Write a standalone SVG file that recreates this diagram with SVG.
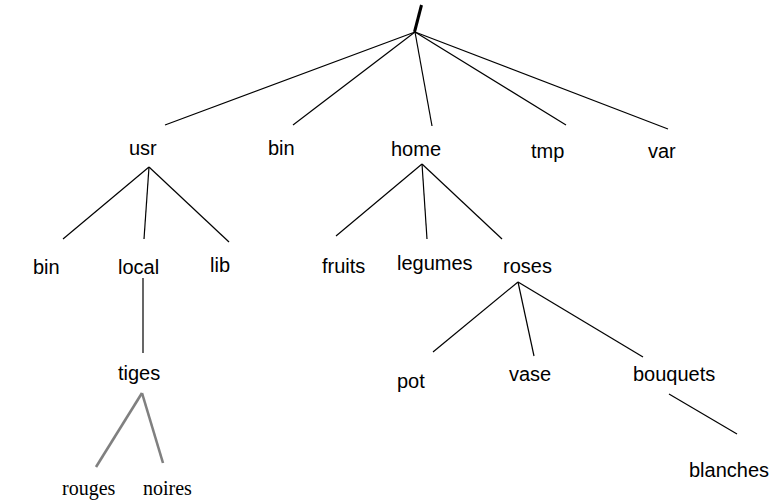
<svg xmlns="http://www.w3.org/2000/svg" width="780" height="504" viewBox="0 0 780 504">
<style>
.t{font-family:"Liberation Sans",Arial,sans-serif;font-size:20px;fill:#000}
.s{font-family:"Liberation Serif","Times New Roman",serif;font-size:20px;fill:#000}
.e{stroke:#000;stroke-width:1.2;fill:none}
.g{stroke:#808080;stroke-width:2.6;fill:none}
</style>
<rect width="780" height="504" fill="#fff"/>
<g id="connectors">
<line class="e" x1="415" y1="32" x2="165" y2="125"/>
<line class="e" x1="415" y1="32" x2="293" y2="125"/>
<line class="e" x1="415" y1="32" x2="432" y2="126"/>
<line class="e" x1="415" y1="32" x2="566" y2="125"/>
<line class="e" x1="415" y1="32" x2="668" y2="129"/>
<line class="e" x1="149" y1="167" x2="63" y2="239"/>
<line class="e" x1="149" y1="167" x2="144" y2="239"/>
<line class="e" x1="149" y1="167" x2="229" y2="242"/>
<line class="e" x1="143" y1="278" x2="143" y2="353"/>
<line class="g" x1="142" y1="393" x2="96" y2="467"/>
<line class="g" x1="142" y1="393" x2="163" y2="463"/>
<line class="e" x1="422" y1="164" x2="336" y2="236"/>
<line class="e" x1="422" y1="164" x2="427" y2="239"/>
<line class="e" x1="422" y1="164" x2="502" y2="239"/>
<line class="e" x1="518" y1="282" x2="433" y2="352"/>
<line class="e" x1="518" y1="282" x2="534" y2="356"/>
<line class="e" x1="518" y1="282" x2="643" y2="357"/>
<line class="e" x1="669" y1="394" x2="737" y2="434"/>
</g>
<g id="root"><line x1="421.5" y1="5" x2="414.5" y2="32" stroke="#000" stroke-width="3"/></g>
<g id="usr"><text class="t" x="129" y="155">usr</text></g>
<g id="bin"><text class="t" x="268" y="155">bin</text></g>
<g id="home"><text class="t" x="391" y="156">home</text></g>
<g id="tmp"><text class="t" x="531" y="158">tmp</text></g>
<g id="var"><text class="t" x="648" y="158">var</text></g>
<g id="usr-bin"><text class="t" x="33" y="274">bin</text></g>
<g id="local"><text class="t" x="118" y="274">local</text></g>
<g id="lib"><text class="t" x="210" y="272">lib</text></g>
<g id="tiges"><text class="t" x="118" y="380">tiges</text></g>
<g id="rouges"><text class="s" x="62" y="495">rouges</text></g>
<g id="noires"><text class="s" x="143" y="495">noires</text></g>
<g id="fruits"><text class="t" x="322" y="273">fruits</text></g>
<g id="legumes"><text class="t" x="397" y="270">legumes</text></g>
<g id="roses"><text class="t" x="503" y="273">roses</text></g>
<g id="pot"><text class="t" x="397" y="388">pot</text></g>
<g id="vase"><text class="t" x="509" y="381">vase</text></g>
<g id="bouquets"><text class="t" x="633" y="381">bouquets</text></g>
<g id="blanches"><text class="t" x="689" y="477">blanches</text></g>
</svg>
